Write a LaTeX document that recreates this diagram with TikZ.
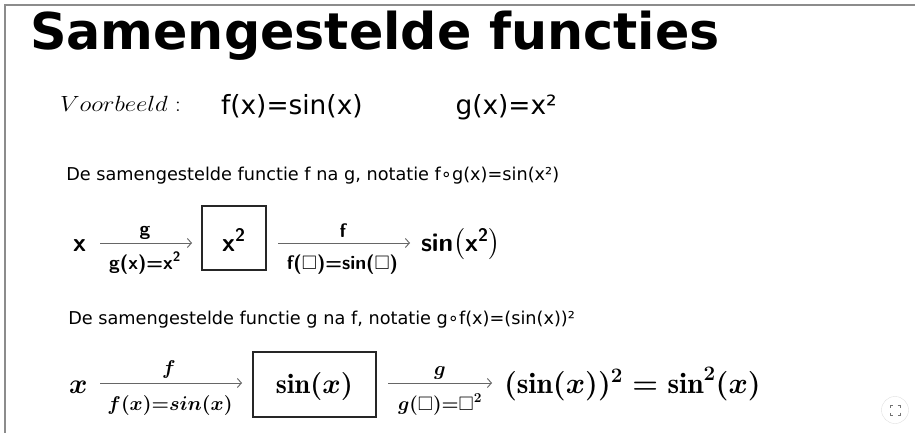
\RequirePackage{fix-cm}
\documentclass[tikz,border=0pt]{standalone}
\usepackage{amsmath,amssymb}
\usepackage{graphicx}
\usepackage{fontspec}
\newfontfamily\dv{DejaVu Sans}
\usetikzlibrary{arrows.meta}
\tikzset{
  txt/.style={inner sep=0pt, outer sep=0pt},
  arr/.style={draw=black!60, line width=0.9pt, -{Straight Barb[length=4pt,width=9pt]}},
  fbox/.style={draw=black!85, line width=1.2pt, inner sep=0pt},
}
\newcommand{\sfb}{\sffamily\bfseries}
\begin{document}
\begin{tikzpicture}[x=1pt,y=-1pt]
\useasboundingbox (0,0) rectangle (915,433);
\fill[white] (0,0) rectangle (915,433);
\draw[black!45, line width=1.3pt] (5,433) -- (5,5) -- (915,5);

% title
\node[txt, anchor=base west] (title) at (30,50)
  {\dv\bfseries\fontsize{50.7}{60}\selectfont Samengestelde functies};

% example line
\node[txt, anchor=base west] (vb) at (60,112)
  {\fontsize{22}{26}\selectfont\scalebox{1.13}[1]{$Voorbeeld:$}};
\node[txt, anchor=base west] (fx) at (221,115)
  {\dv\fontsize{26.4}{30}\selectfont f(x)=sin(x)};
\node[txt, anchor=base west] (gx) at (455.5,115)
  {\dv\fontsize{26.4}{30}\selectfont g(x)=x²};

% text 1
\node[txt, anchor=base west] (t1) at (66.3,180)
  {\dv\fontsize{17.7}{20}\selectfont De samengestelde functie f na g, notatie f∘g(x)=sin(x²)};

% row 1
\node[txt, anchor=base west] (x1) at (73,251) {\fontsize{26}{30}\selectfont\sfb x};
\node[fbox, minimum width=64pt, minimum height=64pt, text height=30pt, text depth=4pt] (b1) at (234,238)
  {\fontsize{26}{30}\selectfont\sfb x\textsuperscript{2}};
\node[txt, anchor=base west] (r1) at (421,251)
  {\fontsize{26}{30}\selectfont\sfb sin$\bigl($x\textsuperscript{2}$\bigr)$};
\coordinate (a1s) at (100,243);
\coordinate (a1e) at (192,243);
\coordinate (a2s) at (278,243);
\coordinate (a2e) at (410,243);
\draw[arr] (a1s) -- (a1e);
\draw[arr] (a2s) -- (a2e);
\node[txt, anchor=base] (l1a) at (145,235) {\fontsize{19.5}{22}\selectfont\sfb g};
\node[txt, anchor=base] (l1b) at (145,269)
  {\fontsize{19.5}{22}\selectfont\sfb g(x)=x\textsuperscript{2}};
\node[txt, anchor=base] (l2a) at (343,237) {\fontsize{19.5}{22}\selectfont\sfb f};
\node[txt, anchor=base] (l2b) at (342.5,269)
  {\fontsize{19.5}{22}\selectfont\sfb f($\square$)=sin($\square$)};

% text 2
\node[txt, anchor=base west] (t2) at (68.3,324)
  {\dv\fontsize{17.7}{20}\selectfont De samengestelde functie g na f, notatie g∘f(x)=(sin(x))²};

% row 2
\node[txt, anchor=base west] (x2) at (69,393) {\fontsize{28}{32}\selectfont$\boldsymbol{x}$};
\node[fbox, minimum width=123pt, minimum height=65pt, text height=25pt, text depth=8pt] (b2) at (314.5,384.5)
  {\fontsize{28}{32}\selectfont$\boldsymbol{\sin(x)}$};
\node[txt, anchor=base west] (r2) at (504,393)
  {\fontsize{29.4}{34}\selectfont$\boldsymbol{(\sin(x))^2=\sin^2(x)}$};
\coordinate (a3s) at (100,383);
\coordinate (a3e) at (242,383);
\coordinate (a4s) at (388,383);
\coordinate (a4e) at (492,383);
\draw[arr] (a3s) -- (a3e);
\draw[arr] (a4s) -- (a4e);
\node[txt, anchor=base] (l3a) at (169,374) {\fontsize{20}{24}\selectfont$\boldsymbol{f}$};
\node[txt, anchor=base] (l3b) at (170,410)
  {\resizebox{125pt}{!}{\fontsize{19}{22}\selectfont$\boldsymbol{f(x){=}sin(x)}$}};
\node[txt, anchor=base] (l4a) at (440,375) {\fontsize{20}{24}\selectfont$\boldsymbol{g}$};
\node[txt, anchor=base] (l4b) at (440,410)
  {\resizebox{84pt}{!}{\fontsize{19}{22}\selectfont$\boldsymbol{g(}\square\boldsymbol{){=}}\square^{\boldsymbol{2}}$}};

% expand icon
\node[circle, draw=black!12, fill=white, minimum size=27pt, inner sep=0pt] (icon) at (895,410) {};
\draw[black!55, line width=0.9pt]
  (890,407.5) -- (890,405) -- (892.5,405)
  (897.5,405) -- (900,405) -- (900,407.5)
  (900,412.5) -- (900,415) -- (897.5,415)
  (892.5,415) -- (890,415) -- (890,412.5);
\end{tikzpicture}
\end{document}
